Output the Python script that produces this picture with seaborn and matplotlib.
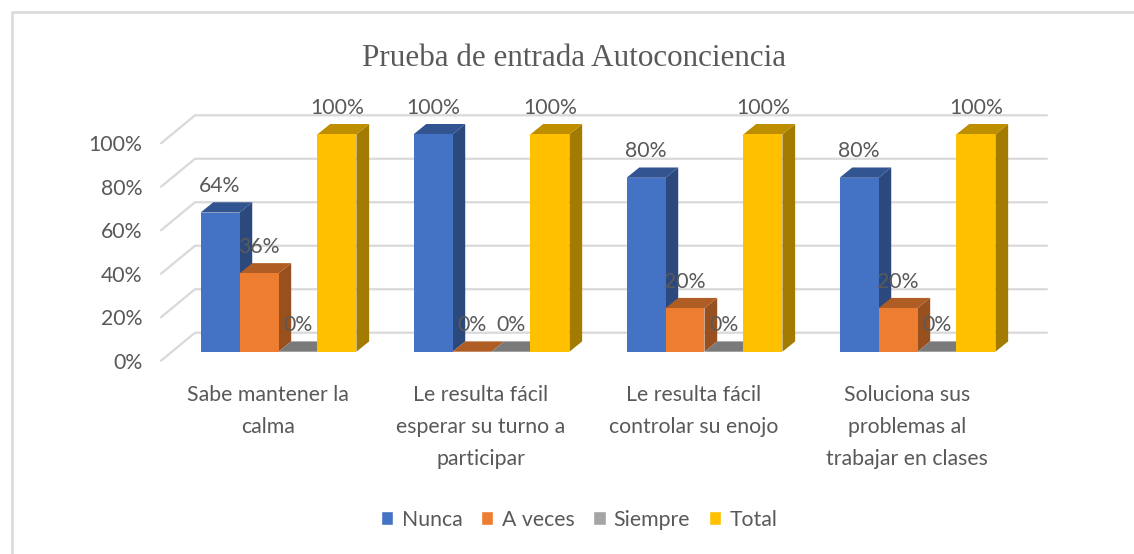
import numpy as np
import pandas as pd
import matplotlib
matplotlib.use("Agg")
import matplotlib.pyplot as plt
import matplotlib.colors as mcolors
from matplotlib.lines import Line2D
from matplotlib.patches import Polygon
from matplotlib.transforms import IdentityTransform, ScaledTranslation
import seaborn as sns

# Datos
categorias = ["Sabe mantener la\ncalma",
              "Le resulta fácil\nesperar su turno a\nparticipar",
              "Le resulta fácil\ncontrolar su enojo",
              "Soluciona sus\nproblemas al\ntrabajar en clases"]
series = ["Nunca", "A veces", "Siempre", "Total"]
nunca = [0.64, 1.00, 0.80, 0.80]
a_veces = [0.36, 0.00, 0.20, 0.20]
siempre = [0.00, 0.00, 0.00, 0.00]
total = [1.00, 1.00, 1.00, 1.00]
colores = ["#4472C4", "#ED7D31", "#A5A5A5", "#FFC000"]
y_ticks = [0, 0.2, 0.4, 0.6, 0.8, 1.0]

W, H = 1134, 554
GRIS = "#595959"
FUENTE = "Lato"
TAM = 15.3

sns.set_theme(style="white")
plt.rcParams["font.family"] = [FUENTE, "DejaVu Sans"]

df = pd.DataFrame({
    "categoria": categorias * 4,
    "serie": np.repeat(series, 4),
    "valor": nunca + a_veces + siempre + total,
})

fig = plt.figure(figsize=(W / 100, H / 100), dpi=100)

# Marco del grafico: en la imagen solo se ven el borde superior y el izquierdo
fig.add_artist(Line2D([11.5, 11.5, W], [0, H - 11.5, H - 11.5], transform=IdentityTransform(),
                      color="#DCDCDC", linewidth=2))

# Ejes: el frente de las barras va de y=352 (0%) a y=134 (100%)
ax = fig.add_axes([172 / W, (H - 351.7) / H, 852 / W, 217.4 / H])
ax.patch.set_alpha(0)

sns.barplot(data=df, x="categoria", y="valor", hue="serie", palette=colores,
            width=0.732, gap=0, saturation=1, dodge=True, ax=ax, legend=True)
ax.set_xlim(-0.5, 3.5)
ax.set_ylim(0, 1)
ax.set_xlabel("")
ax.set_ylabel("")
sns.despine(ax=ax, left=True, bottom=True)
fig.canvas.draw()


def a_pixel(x, y):
    return ax.transData.transform((x, y))


def oscurecer(color, factor):
    return tuple(c * factor for c in mcolors.to_rgb(color))


# Paredes del 3D: lineas de fondo y diagonales del piso
x0_px = a_pixel(-0.5, 0)[0]
x1_px = a_pixel(3.5, 0)[0]
for t in y_ticks:
    yb = a_pixel(0, t)[1]
    ax.plot([x0_px - 11, x0_px + 23, x1_px + 23], [yb - 9, yb + 19, yb + 19],
            transform=IdentityTransform(), color="#D9D9D9", lw=1.6, clip_on=False, zorder=0)

# Profundidad de cada barra: tapa superior y cara lateral
DX, DY = 12.7, 10.3
for i_serie, barras in enumerate(ax.containers):
    for i_cat, barra in enumerate(barras):
        z = 2 + i_cat * 4 + i_serie
        barra.set_zorder(z)
        barra.set_linewidth(0)
        xl, xr = barra.get_x(), barra.get_x() + barra.get_width()
        alto = barra.get_height()
        (pxl, py0), (pxr, py1) = a_pixel(xl, 0), a_pixel(xr, alto)
        tapa = [(pxl, py1), (pxr, py1), (pxr + DX, py1 + DY), (pxl + DX, py1 + DY)]
        lado = [(pxr, py0), (pxr, py1), (pxr + DX, py1 + DY), (pxr + DX, py0 + DY)]
        color = colores[i_serie]
        for pts, f in ((lado, 0.64), (tapa, 0.74)):
            ax.add_patch(Polygon(pts, closed=True, transform=IdentityTransform(),
                                 facecolor=oscurecer(color, f), edgecolor="none",
                                 clip_on=False, zorder=z - 0.5))

# Etiquetas de datos
for barras in ax.containers:
    etiquetas = [f"{b.get_height():.0%}" for b in barras]
    for t in ax.bar_label(barras, labels=etiquetas, padding=11.8, fontsize=TAM,
                          color=GRIS, family=FUENTE):
        t.set_zorder(50)

# Ticks: desplazados hacia el frente del piso
ax.set_yticks(y_ticks)
ax.set_yticklabels([f"{v:.0%}" for v in y_ticks], fontsize=TAM, color=GRIS)
ax.tick_params(axis="y", length=0, pad=21.5)
ax.tick_params(axis="x", length=0, pad=23.7)
ax.set_xticks(range(4))
ax.set_xticklabels(categorias, fontsize=TAM, color=GRIS, linespacing=1.75)
for lab in ax.get_yticklabels():
    lab.set_transform(lab.get_transform() + ScaledTranslation(0, -9 / 100, fig.dpi_scale_trans))
for lab in ax.get_xticklabels():
    lab.set_transform(lab.get_transform() + ScaledTranslation(-10.5 / 100, 0, fig.dpi_scale_trans))

# Titulo
fig.text(574.5 / W, 1 - 58.5 / H, "Prueba de entrada Autoconciencia", ha="center", va="center",
         family="Liberation Serif", fontsize=22.4, color=GRIS)

# Leyenda
sns.move_legend(ax, "center", bbox_to_anchor=(579 / W, 1 - 519.5 / H),
                bbox_transform=fig.transFigure, ncol=4, frameon=False, title=None,
                fontsize=TAM, handlelength=0.6, handleheight=0.6,
                handletextpad=0.38, columnspacing=0.87, labelcolor=GRIS)

fig.savefig("out.png", dpi=100, facecolor="white")
